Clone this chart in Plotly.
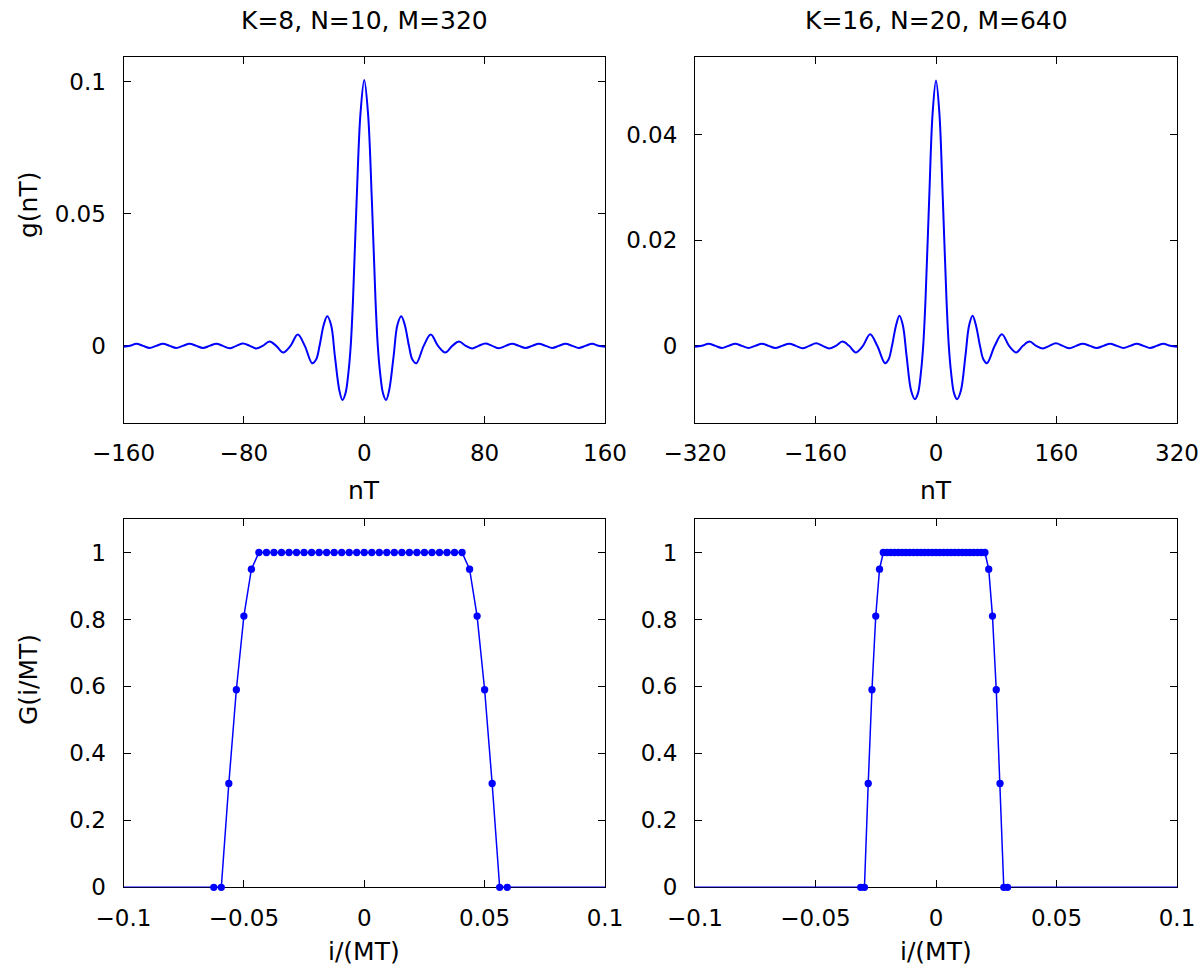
import plotly.graph_objects as go

# ---------------- data ----------------
# Top-left: g(nT), K=8, N=10, M=320 (right half mirrors left half)
gL_x_half = [-160, -155.7, -151.5, -147, -142.6, -138.2, -133.8, -129.3, -124.9, -120.5,
             -116.1, -111.6, -107.2, -102.8, -98.3, -94, -89.5, -85, -80.5, -76,
             -71.8, -67.5, -63, -58.5, -53.9, -49, -44.2, -39.5, -34.6, -32,
             -29.7, -27, -24.6, -22, -19.5, -16.5, -14.5, -12.5, -10.5, -9,
             -7.5, -5, -2.5]
gL_y_half = [-0.0003, 0, 0.0008, 0, -0.0008, 0, 0.0008, 0, -0.0008, 0,
             0.0008, 0, -0.0008, 0, 0.0008, 0, -0.0009, 0, 0.0009, 0,
             -0.0010, 0, 0.0016, 0, -0.0025, 0, 0.0043, 0, -0.0066, -0.0052,
             0, 0.0078, 0.0112, 0.0078, -0.0040, -0.0170, -0.0205, -0.0180, -0.0100, 0,
             0.0170, 0.0560, 0.0880]
gL_peak = 0.1006

# Top-right: g(nT), K=16, N=20, M=640
gR_x_half = [-320, -311, -302, -293, -284.2, -275.4, -266.6, -257.9, -248.9, -240,
             -231.2, -222.3, -213.5, -204.3, -195, -186.1, -177.3, -168.3, -159.2, -150.5,
             -141.9, -133.1, -124.3, -115.4, -106.5, -97, -87.5, -78, -67.6, -63,
             -58.4, -53, -48.6, -44, -39, -33, -28, -24, -20, -17,
             -14, -9, -4.5]
gR_y_half = [-0.00015, 0, 0.0004, 0, -0.0004, 0, 0.0004, 0, -0.0004, 0,
             0.0004, 0, -0.0004, 0, 0.0004, 0, -0.00045, 0, 0.00047, 0,
             -0.0005, 0, 0.0008, 0, -0.00125, 0, 0.0022, 0, -0.0033, -0.0026,
             0, 0.0039, 0.0057, 0.0039, -0.0020, -0.0085, -0.0101, -0.0090, -0.0050, 0,
             0.0085, 0.0280, 0.0440]
gR_peak = 0.0502

# Bottom-left: G(i/MT), M=320 samples
GL_x = [-0.0625, -0.059375, -0.05625, -0.053125, -0.05, -0.046875,
        -0.04375, -0.040625, -0.0375, -0.034375, -0.03125, -0.028125, -0.025,
        -0.021875, -0.01875, -0.015625, -0.0125, -0.009375, -0.00625, -0.003125,
        0.0, 0.003125, 0.00625, 0.009375, 0.0125, 0.015625, 0.01875, 0.021875,
        0.025, 0.028125, 0.03125, 0.034375, 0.0375, 0.040625,
        0.04375, 0.046875, 0.05, 0.053125, 0.05625, 0.059375]
GL_y = [0, 0, 0.31, 0.59, 0.81, 0.95,
        1, 1, 1, 1, 1, 1, 1, 1, 1, 1, 1, 1, 1, 1,
        1, 1, 1, 1, 1, 1, 1, 1, 1, 1, 1, 1, 1, 1,
        0.95, 0.81, 0.59, 0.31, 0, 0]

# Bottom-right: G(i/MT), M=640 samples
GR_x = [-0.03125, -0.0296875, -0.028125, -0.0265625, -0.025, -0.0234375,
        -0.021875, -0.0203125, -0.01875, -0.0171875, -0.015625, -0.0140625, -0.0125,
        -0.0109375, -0.009375, -0.0078125, -0.00625, -0.0046875, -0.003125, -0.0015625,
        0.0, 0.0015625, 0.003125, 0.0046875, 0.00625, 0.0078125, 0.009375, 0.0109375,
        0.0125, 0.0140625, 0.015625, 0.0171875, 0.01875, 0.0203125,
        0.021875, 0.0234375, 0.025, 0.0265625, 0.028125, 0.0296875]
GR_y = [0, 0, 0.31, 0.59, 0.81, 0.95,
        1, 1, 1, 1, 1, 1, 1, 1, 1, 1, 1, 1, 1, 1,
        1, 1, 1, 1, 1, 1, 1, 1, 1, 1, 1, 1, 1, 1,
        0.95, 0.81, 0.59, 0.31, 0, 0]

titles = ["K=8, N=10, M=320", "K=16, N=20, M=640"]
tlx_vals = [-160, -80, 0, 80, 160]
tlx_text = ["\u2212160", "\u221280", "0", "80", "160"]
trx_vals = [-320, -160, 0, 160, 320]
trx_text = ["\u2212320", "\u2212160", "0", "160", "320"]
tly_vals = [0, 0.05, 0.1]
tly_text = ["0", "0.05", "0.1"]
try_vals = [0, 0.02, 0.04]
try_text = ["0", "0.02", "0.04"]
bx_vals = [-0.1, -0.05, 0, 0.05, 0.1]
bx_text = ["\u22120.1", "\u22120.05", "0", "0.05", "0.1"]
by_vals = [0, 0.2, 0.4, 0.6, 0.8, 1]
by_text = ["0", "0.2", "0.4", "0.6", "0.8", "1"]

# ---------------- figure ----------------
W, H = 1200, 972
BLUE = "#0000ff"
FONT = "DejaVu Sans"
TICK = 23
LAB = 25

def mirror(xh, yh, peak):
    xs = list(xh) + [0] + [-v for v in reversed(xh)]
    ys = list(yh) + [peak] + list(reversed(yh))
    return xs, ys

fig = go.Figure()

xL, yL = mirror(gL_x_half, gL_y_half, gL_peak)
xR, yR = mirror(gR_x_half, gR_y_half, gR_peak)

fig.add_trace(go.Scatter(x=xL, y=yL, mode="lines", line=dict(color=BLUE, width=2, shape="spline", smoothing=1.0),
                         xaxis="x", yaxis="y", showlegend=False))
fig.add_trace(go.Scatter(x=xR, y=yR, mode="lines", line=dict(color=BLUE, width=2, shape="spline", smoothing=1.0),
                         xaxis="x2", yaxis="y2", showlegend=False))

for xs, ys, ax, ay in [(GL_x, GL_y, "x3", "y3"), (GR_x, GR_y, "x4", "y4")]:
    fig.add_trace(go.Scatter(x=[-0.1] + xs + [0.1], y=[0] + ys + [0], mode="lines",
                             line=dict(color=BLUE, width=1.5), xaxis=ax, yaxis=ay,
                             showlegend=False))
    fig.add_trace(go.Scatter(x=xs, y=ys, mode="markers", marker=dict(color=BLUE, size=7.3),
                             cliponaxis=False, xaxis=ax, yaxis=ay, showlegend=False))

def px_x(p):
    return p / W

def px_y(p):
    return 1 - p / H

dom_x_left = [px_x(123.5), px_x(605)]
dom_x_right = [px_x(695), px_x(1177)]
dom_y_top = [px_y(423), px_y(57.3)]
dom_y_bot = [px_y(887.3), px_y(519)]

common = dict(showline=True, linecolor="black", linewidth=1, mirror="ticks",
              ticks="inside", ticklen=7, tickcolor="black", tickwidth=1,
              showgrid=False, zeroline=False, layer="below traces", automargin=False,
              tickfont=dict(family=FONT, size=TICK, color="black"))

fig.update_layout(
    template="none",
    width=W, height=H, margin=dict(l=0, r=0, t=0, b=0, pad=0),
    paper_bgcolor="white", plot_bgcolor="white", showlegend=False,
    xaxis=dict(domain=dom_x_left, range=[-160, 160], tickvals=tlx_vals, ticktext=tlx_text,
               anchor="y", ticklabelstandoff=9, **common),
    yaxis=dict(domain=dom_y_top, range=[-0.0292, 0.1092], tickvals=tly_vals, ticktext=tly_text,
               anchor="x", ticklabelstandoff=12, **common),
    xaxis2=dict(domain=dom_x_right, range=[-320, 320], tickvals=trx_vals, ticktext=trx_text,
                anchor="y2", ticklabelstandoff=9, **common),
    yaxis2=dict(domain=dom_y_top, range=[-0.0146, 0.0546], tickvals=try_vals, ticktext=try_text,
                anchor="x2", ticklabelstandoff=12, **common),
    xaxis3=dict(domain=dom_x_left, range=[-0.1, 0.1], tickvals=bx_vals, ticktext=bx_text,
                anchor="y3", ticklabelstandoff=10, **common),
    yaxis3=dict(domain=dom_y_bot, range=[0, 1.1], tickvals=by_vals, ticktext=by_text,
                anchor="x3", ticklabelstandoff=12, **common),
    xaxis4=dict(domain=dom_x_right, range=[-0.1, 0.1], tickvals=bx_vals, ticktext=bx_text,
                anchor="y4", ticklabelstandoff=10, **common),
    yaxis4=dict(domain=dom_y_bot, range=[0, 1.1], tickvals=by_vals, ticktext=by_text,
                anchor="x4", ticklabelstandoff=12, **common),
)

def ann(text, xp, yp, angle=0, size=LAB):
    fig.add_annotation(text=text, x=px_x(xp), y=px_y(yp), xref="paper", yref="paper",
                       showarrow=False, textangle=angle, xanchor="center", yanchor="middle",
                       font=dict(family=FONT, size=size, color="black"))

ann(titles[0], 364, 20)
ann(titles[1], 936, 20)
ann("nT", 364, 490)
ann("nT", 936, 490)
ann("i/(MT)", 364, 951)
ann("i/(MT)", 936, 951)
ann("g(nT)", 28, 205, angle=-90)
ann("G(i/MT)", 28, 680, angle=-90)

fig.write_html(
    "out.html",
    config={"displayModeBar": False},
    post_script="document.body.style.margin='0px';document.body.style.overflow='hidden';",
)
